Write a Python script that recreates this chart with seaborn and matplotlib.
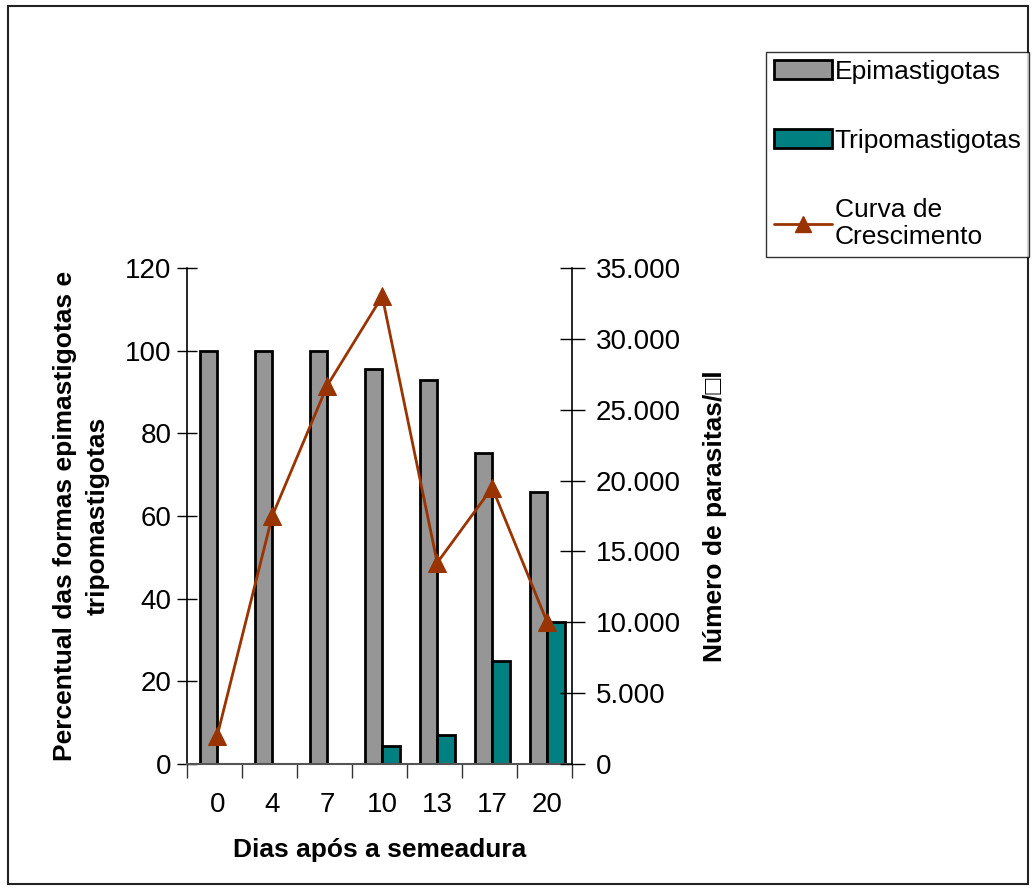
import numpy as np
import pandas as pd
import seaborn as sns
import matplotlib.pyplot as plt
from matplotlib.patches import Patch, Rectangle
from matplotlib.lines import Line2D
from matplotlib.ticker import FuncFormatter, FixedLocator

dias = ["0", "4", "7", "10", "13", "17", "20"]
epimastigotas = [100, 100, 100, 95.6, 93.0, 75.2, 65.7]
tripomastigotas = [0, 0, 0, 4.4, 7.0, 24.8, 34.3]
curva = [2000, 17500, 26700, 33000, 14200, 19500, 10000]

cor_epi = "#969696"
cor_tri = "#008080"
cor_curva = "#993300"

df = pd.DataFrame({"dia": dias * 2,
                   "forma": ["Epimastigotas"] * 7 + ["Tripomastigotas"] * 7,
                   "pct": epimastigotas + tripomastigotas})
df_curva = pd.DataFrame({"dia": dias, "n": curva})

sns.set_style("white")
plt.rcParams['font.family'] = ['Liberation Sans', 'DejaVu Sans']
plt.rcParams['text.color'] = 'black'
plt.rcParams['axes.labelcolor'] = 'black'
plt.rcParams['xtick.color'] = 'black'
plt.rcParams['ytick.color'] = 'black'

fig = plt.figure(figsize=(10.36, 8.9), dpi=100)
ax = fig.add_axes([0.1805, 0.1416, 0.3716, 0.5573])

sns.barplot(data=df, x="dia", y="pct", hue="forma", order=dias,
            palette=[cor_epi, cor_tri], width=0.63, saturation=1,
            edgecolor="black", linewidth=2, ax=ax, legend=False)
ax.set_ylim(0, 120)
ax.set_xlim(-0.55, 6.45)
ax.set_yticks(range(0, 121, 20))

ax2 = ax.twinx()
sns.lineplot(data=df_curva, x="dia", y="n", color=cor_curva, marker="^",
             markersize=13, markeredgecolor=cor_curva, linewidth=2, ax=ax2, sort=False)
ax2.set_ylim(0, 35000)
ax2.set_yticks(range(0, 35001, 5000))
ax2.yaxis.set_major_formatter(FuncFormatter(lambda v, p: f"{int(v):,}".replace(",", ".")))
ax2.set_xlim(-0.55, 6.45)

for a in (ax, ax2):
    for s in ("top", "right", "left", "bottom"):
        a.spines[s].set_visible(False)

ax.spines["left"].set_visible(True)
ax.spines["left"].set_color("black")
ax.spines["left"].set_linewidth(1.2)
ax.spines["bottom"].set_visible(True)
ax.spines["bottom"].set_color("#555555")
ax.spines["bottom"].set_linewidth(1.5)
ax2.spines["right"].set_visible(True)
ax2.spines["right"].set_color("black")
ax2.spines["right"].set_linewidth(1.2)

ax.tick_params(axis="y", direction="inout", length=14, width=1, pad=4,
               labelsize=20, left=True)
ax2.tick_params(axis="y", direction="inout", length=18, width=1, pad=8,
                labelsize=20, right=True)
ax.xaxis.set_minor_locator(FixedLocator(np.arange(-0.55, 7, 1)))
ax.tick_params(axis="x", which="minor", direction="out", length=10, width=1,
               bottom=True, color="#333333")
ax.tick_params(axis="x", which="major", length=0, pad=20, labelsize=20)

ax.set_xlabel("Dias após a semeadura", fontsize=19, fontweight="bold")
ax.xaxis.set_label_coords(0.5, -0.15)
ax.set_ylabel("Percentual das formas epimastigotas e\ntripomastigotas",
              fontsize=19, fontweight="bold", linespacing=1.5)
ax.yaxis.set_label_coords(-0.2, 0.5)
ax2.set_ylabel("Número de parasitas/□l", fontsize=19, fontweight="bold")
ax2.yaxis.set_label_coords(1.34, 0.5)

handles = [Patch(facecolor=cor_epi, edgecolor="black", linewidth=2),
           Patch(facecolor=cor_tri, edgecolor="black", linewidth=2),
           Line2D([0], [0], color=cor_curva, marker="^", markersize=11, linewidth=2)]
leg = fig.legend(handles, ["Epimastigotas", "Tripomastigotas", "Curva de\nCrescimento"],
                 loc="upper left", bbox_to_anchor=(766 / 1036, 1 - 52 / 890),
                 fontsize=19, frameon=True, fancybox=False, handlelength=2.2,
                 handletextpad=0.1, labelspacing=1.7, borderpad=0.3,
                 borderaxespad=0)
leg.get_frame().set_edgecolor("black")
leg.get_frame().set_linewidth(1)

fig.add_artist(Rectangle((8 / 1036, 6 / 890), 1020 / 1036, 878 / 890,
                         transform=fig.transFigure, fill=False,
                         edgecolor="#222222", linewidth=1.5))

fig.savefig("out.png", dpi=100)
